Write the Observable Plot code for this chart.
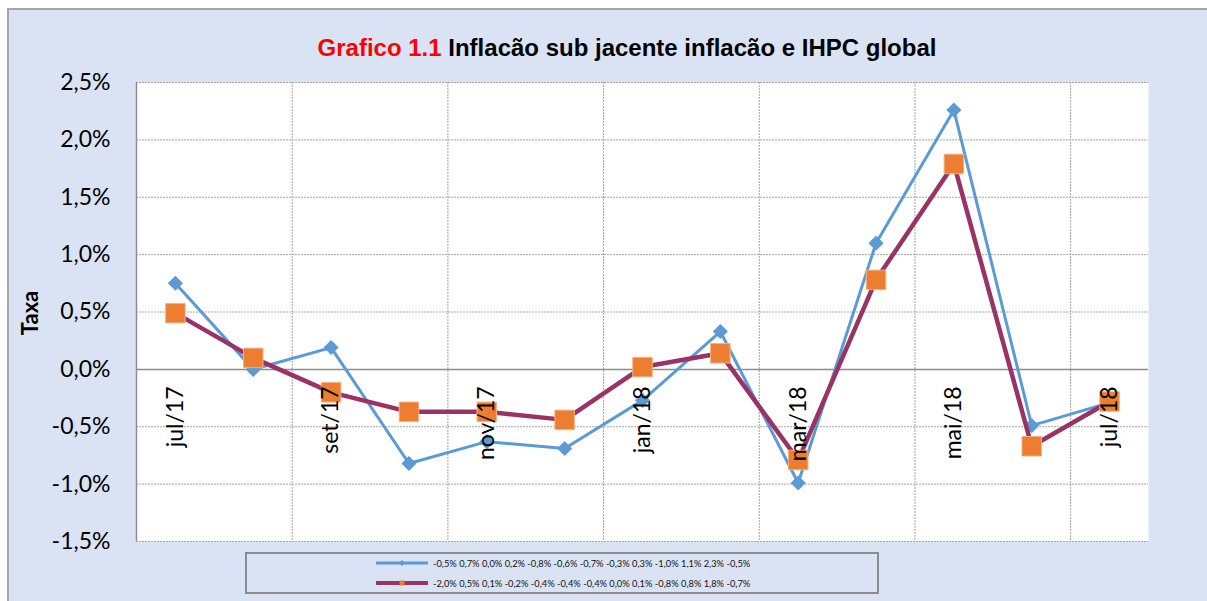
<!DOCTYPE html>
<html><head><meta charset="utf-8">
<script src="https://cdn.jsdelivr.net/npm/d3@7"></script>
<script src="https://cdn.jsdelivr.net/npm/@observablehq/plot@0.6"></script>
<style>
body{margin:0;background:#fff;}
#wrap{position:relative;width:1207px;height:601px;overflow:hidden;background:#fff;}
#bg{position:absolute;left:7px;top:8px;width:1220px;height:620px;background:#dae3f3;border-left:2px solid #a6a6a6;border-top:2px solid #a6a6a6;box-sizing:border-box;}
#chart{position:absolute;left:0;top:0;}
#title{position:absolute;left:0;width:1254px;top:36px;text-align:center;font:bold 24px "Liberation Sans",Arial,sans-serif;line-height:24px;color:#000;white-space:nowrap;}
#title .red{color:#ff0000;}
#ylab{position:absolute;left:29px;top:313px;transform:translate(-50%,-50%) rotate(-90deg);font:bold 22px Lato,sans-serif;color:#000;white-space:nowrap;}
#legend{position:absolute;left:245px;top:552px;width:634px;height:42px;border:2px solid #8c8c8c;box-sizing:border-box;background:#dae3f3;}
.entry{position:absolute;left:129px;height:12px;display:flex;align-items:center;font:9.3px Lato,sans-serif;color:#111;white-space:nowrap;}
.entry svg{margin-right:5px;}
</style></head>
<body>
<div id="wrap">
  <div id="bg"></div>
  <div id="chart"></div>
  <div id="title"><span class="red">Grafico 1.1</span> Inflacão sub jacente inflacão e IHPC global</div>
  <div id="ylab">Taxa</div>
  <div id="legend"></div>
</div>
<script>
// Data
const months = ["jul/17","ago/17","set/17","out/17","nov/17","dez/17","jan/18","fev/18","mar/18","abr/18","mai/18","jun/18","jul/18"];
const serieA = [0.75, 0.00, 0.19, -0.82, -0.63, -0.69, -0.27, 0.33, -0.99, 1.10, 2.26, -0.49, -0.29];
const serieB = [0.49, 0.10, -0.20, -0.37, -0.37, -0.44, 0.02, 0.14, -0.79, 0.78, 1.79, -0.67, -0.28];
const seriesNames = [
  "-0,5% 0,7% 0,0% 0,2% -0,8% -0,6% -0,7% -0,3% 0,3% -1,0% 1,1% 2,3% -0,5%",
  "-2,0% 0,5% 0,1% -0,2% -0,4% -0,4% -0,4% 0,0% 0,1% -0,8% 0,8% 1,8% -0,7%"
];
const yTicks = [-1.5, -1.0, -0.5, 0.0, 0.5, 1.0, 1.5, 2.0, 2.5];

const blue = "#5b9bd5", plum = "#993366", orange = "#ed7d31";
const rows = months.map((m, i) => ({i, m, a: serieA[i], b: serieB[i]}));
const labelIdx = months.map((m, i) => i).filter(i => i % 2 === 0);
const boundaries = labelIdx.filter(i => i > 0).map(i => i - 0.5);
const fmt = d => d3.format(".1f")(d).replace(".", ",").replace("−", "-") + "%";
const grid = {stroke: "#a6a6a6", strokeWidth: 1, strokeDasharray: "2,1"};

const chart = Plot.plot({
  width: 1207, height: 601,
  marginLeft: 136, marginRight: 59, marginTop: 82, marginBottom: 60,
  style: {background: "transparent", fontFamily: "Lato, sans-serif", fontSize: "23px", color: "#000"},
  x: {domain: [-0.5, months.length - 0.5], axis: null},
  y: {domain: [yTicks[0], yTicks[yTicks.length - 1]]},
  marks: [
    Plot.frame({fill: "white", stroke: "none"}),
    Plot.ruleY(yTicks.filter(v => v !== 0), grid),
    Plot.ruleX(boundaries, grid),
    Plot.ruleY([0], {stroke: "#8c8c8c", strokeWidth: 1.5}),
    Plot.ruleX([-0.5], {stroke: "#8c8c8c", strokeWidth: 1.5}),
    Plot.axisY({ticks: yTicks, tickFormat: fmt, tickSize: 0, tickPadding: 26, fontSize: 23, fill: "#000"}),
    Plot.line(rows, {x: "i", y: "a", stroke: blue, strokeWidth: 3}),
    Plot.dot(rows, {x: "i", y: "a", symbol: "diamond2", r: 6.8, fill: blue, stroke: "none"}),
    Plot.line(rows, {x: "i", y: "b", stroke: plum, strokeWidth: 4.5}),
    Plot.dot(rows, {x: "i", y: "b", symbol: "square", r: 11, fill: orange, stroke: "#f4b183", strokeWidth: 1}),
    Plot.text(labelIdx, {x: d => d, y: () => 0, text: d => months[d], rotate: -90, textAnchor: "end", dy: 17, fontSize: 23, fill: "#000"})
  ]
});
document.getElementById("chart").appendChild(chart);

// Legend
const legend = d3.select("#legend");
const entries = [
  {name: seriesNames[0], stroke: blue, sw: 3, marker: "diamond"},
  {name: seriesNames[1], stroke: plum, sw: 4, marker: "square"}
];
entries.forEach((e, k) => {
  const div = legend.append("div").attr("class", "entry").style("top", (k === 0 ? 3 : 23) + "px");
  const svg = div.append("svg").attr("width", 52).attr("height", 12);
  svg.append("line").attr("x1", 0).attr("x2", 52).attr("y1", 6).attr("y2", 6).attr("stroke", e.stroke).attr("stroke-width", e.sw);
  if (e.marker === "square") svg.append("rect").attr("x", 23.5).attr("y", 3.5).attr("width", 5).attr("height", 5).attr("fill", orange);
  else svg.append("path").attr("d", "M26,3L29,6L26,9L23,6Z").attr("fill", blue);
  div.append("span").text(e.name);
});
</script>
</body></html>
